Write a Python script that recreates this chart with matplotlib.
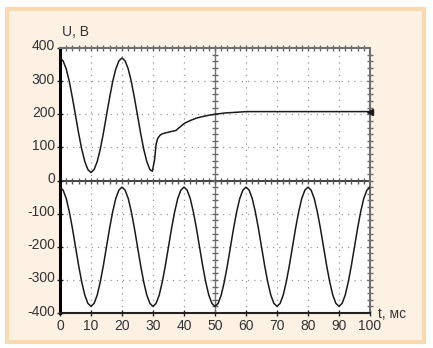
import numpy as np
import matplotlib
matplotlib.use("Agg")
import matplotlib.pyplot as plt
from matplotlib.patches import Rectangle
import matplotlib.transforms as mtransforms

plt.rcParams['font.family'] = ['Liberation Sans', 'DejaVu Sans']

# time, ms (1 ms step)
t = list(range(0, 101))

# lower trace (V)
u_lower = [-20, -29, -54, -94, -144, -200, -256, -306, -346, -371,
           -380, -371, -346, -306, -256, -200, -144, -94, -54, -29,
           -20, -29, -54, -94, -144, -200, -256, -306, -346, -371,
           -380, -371, -346, -306, -256, -200, -144, -94, -54, -29,
           -20, -29, -54, -94, -144, -200, -256, -306, -346, -371,
           -380, -371, -346, -306, -256, -200, -144, -94, -54, -29,
           -20, -29, -54, -94, -144, -200, -256, -306, -346, -371,
           -380, -371, -346, -306, -256, -200, -144, -94, -54, -29,
           -20, -29, -54, -94, -144, -200, -256, -306, -346, -371,
           -380, -371, -346, -306, -256, -200, -144, -94, -54, -29,
           -20]

# upper trace (V): oscillation until ~30 ms, then transient to ~208 V
t_upper = [0, 1, 2, 3, 4, 5, 6, 7, 8, 9,
           10, 11, 12, 13, 14, 15, 16, 17, 18, 19,
           20, 21, 22, 23, 24, 25, 26, 27, 28, 29,
           29.8, 30.5, 31, 31.5, 32.3, 33, 34.2, 35.5, 37.4, 38.5,
           40.2, 42, 43.9, 46, 48, 50, 53.4, 57, 60, 70,
           80, 90, 100]
u_upper = [370, 361, 337, 299, 250, 197, 143, 95, 57, 33,
           24, 33, 57, 95, 143, 197, 250, 299, 337, 361,
           370, 361, 337, 299, 250, 197, 143, 95, 57, 33,
           28, 62, 109, 127, 137, 141, 144, 147, 151, 160,
           173, 181, 188, 193, 197, 200, 204, 206, 208, 208,
           208, 208, 208]

x_ticks = [0, 10, 20, 30, 40, 50, 60, 70, 80, 90, 100]
y_ticks = [-400, -300, -200, -100, 0, 100, 200, 300, 400]

W, H = 433, 348
fig = plt.figure(figsize=(W / 100, H / 100), dpi=100)
fig.patch.set_facecolor('white')

# peach panel with orange border
panel = Rectangle((7 / W, 6 / H), (424 - 7) / W, (339 - 6) / H,
                  transform=fig.transFigure, facecolor='#fdf1e4',
                  edgecolor='#f9d9ae', linewidth=3, zorder=-5)
fig.patches.append(panel)

left, right, top, bottom = 60, 370, 48, 313
ax = fig.add_axes([left / W, (H - bottom) / H, (right - left) / W, (bottom - top) / H])
ax.set_zorder(2)
ax.set_facecolor('white')
ax.set_xlim(0, 100)
ax.set_ylim(-400, 400)

# dotted grid
for xv in x_ticks[1:-1]:
    ax.axvline(xv, color='#9a9a9a', lw=0.9, ls=(0, (1, 4)), zorder=1)
for yv in y_ticks[1:-1]:
    ax.axhline(yv, color='#9a9a9a', lw=0.9, ls=(0, (1, 4)), zorder=1)

# central cross (zero line and t=50 line) with tick marks
ax.axhline(0, color='#333333', lw=1.3, zorder=2)
ax.axvline(50, color='#777777', lw=1.0, zorder=2)
minor_x = np.arange(2, 100, 2)
minor_y = np.arange(-380, 400, 20)
ax.plot(minor_x, np.zeros_like(minor_x), ls='none', marker='|', ms=5,
        mew=1.0, color='#555555', zorder=2)
ax.plot(np.full_like(minor_y, 50), minor_y, ls='none', marker='_', ms=5,
        mew=1.0, color='#666666', zorder=2)
# ticks along top and right borders
ax.plot(minor_x, np.full_like(minor_x, 400, dtype=float), ls='none', marker='|',
        ms=4, mew=1.0, color='#666666', zorder=2, clip_on=False)
ax.plot(np.full_like(minor_y, 100, dtype=float), minor_y, ls='none', marker='_',
        ms=4, mew=1.0, color='#666666', zorder=2, clip_on=False)

# traces
ax.plot(t, u_lower, color='#1a1a1a', lw=1.1, zorder=3)
ax.plot(t_upper, u_upper, color='#1a1a1a', lw=1.1, zorder=3)
ax.plot([t_upper[-1]], [u_upper[-1]], marker='<', ms=4, color='#1a1a1a',
        zorder=4, clip_on=False)

# spines
for s in ['top', 'right']:
    ax.spines[s].set_color('#707070')
    ax.spines[s].set_linewidth(1.5)
ax.spines['left'].set_color('black')
ax.spines['left'].set_linewidth(2.2)
ax.spines['bottom'].set_color('#222222')
ax.spines['bottom'].set_linewidth(1.5)

ax.set_xticks(x_ticks)
ax.set_yticks(y_ticks)
ax.set_xticklabels([str(v) for v in x_ticks])
ax.set_yticklabels([str(v) for v in y_ticks])
ax.tick_params(axis='x', direction='inout', length=5, width=1, color='#222222',
               labelsize=10, labelcolor='#333333', pad=2)
ax.tick_params(axis='y', direction='inout', length=5, width=1, color='#222222',
               labelsize=10, labelcolor='#333333', pad=1)
off = mtransforms.ScaledTranslation(0, 3 / 100, fig.dpi_scale_trans)
for lab in ax.get_yticklabels():
    lab.set_transform(lab.get_transform() + off)

fig.text(62 / W, 1 - 32 / H, 'U, В', fontsize=10, color='#333333',
         ha='left', va='center')
fig.text(378 / W, 1 - 314 / H, 't, мс', fontsize=10, color='#333333',
         ha='left', va='center')

fig.savefig('out.png', dpi=100)
